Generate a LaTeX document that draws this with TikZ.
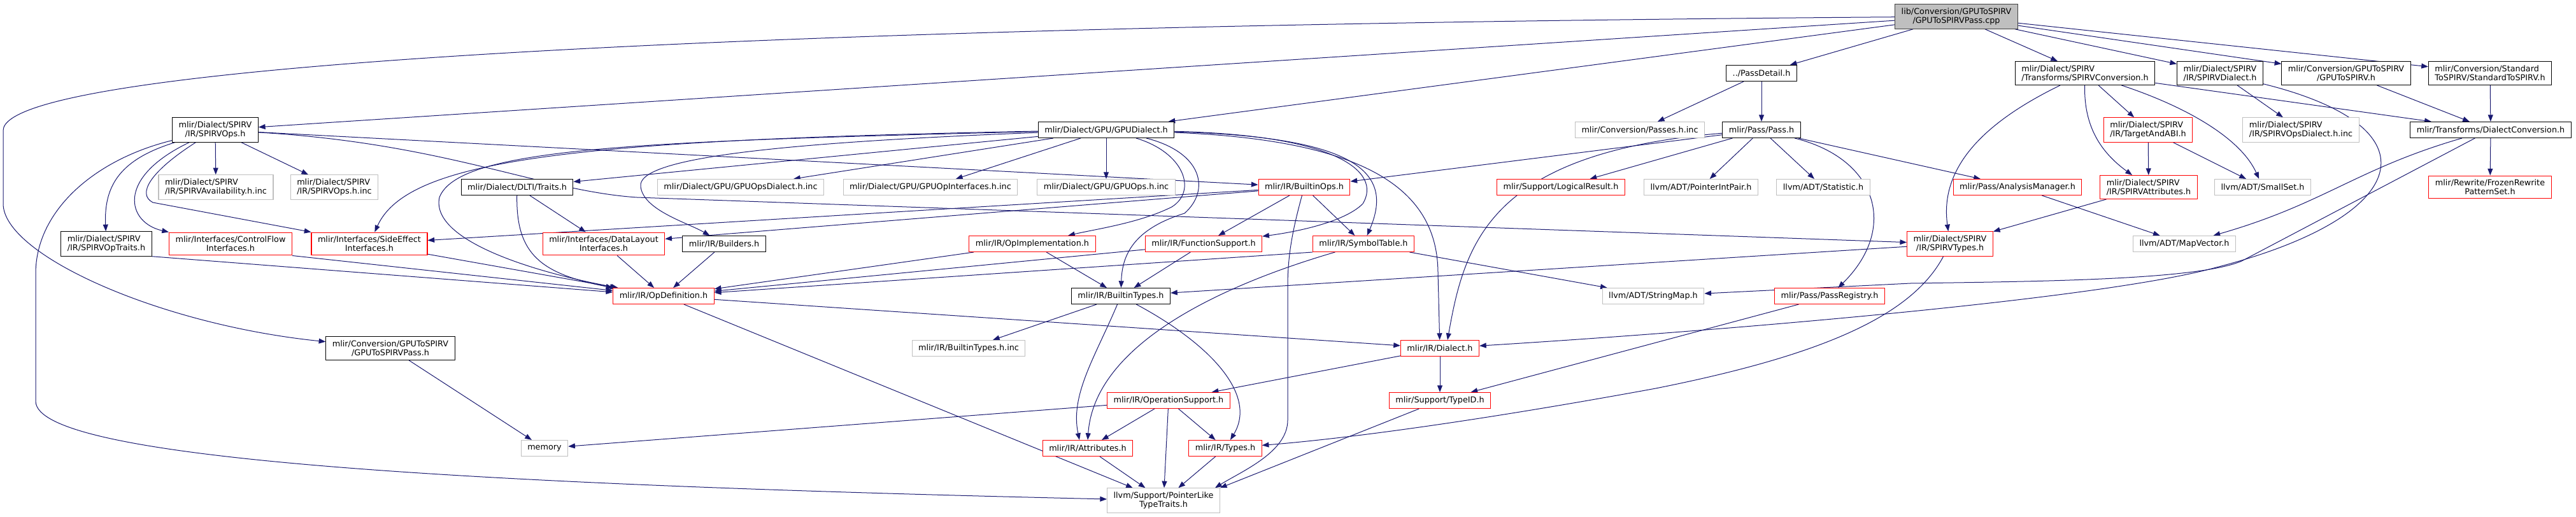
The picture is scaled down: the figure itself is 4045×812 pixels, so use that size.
\documentclass[tikz,border=0pt]{standalone}
\usepackage{fontspec}
\setmainfont{DejaVu Sans}
\usepackage{tikz}
\usetikzlibrary{calc}
\usetikzlibrary{arrows.meta}
\tikzset{>={Triangle[length=8pt,width=6pt]}}
\usetikzlibrary{backgrounds}
\usepackage{xcolor}
\definecolor{edgeblue}{HTML}{191970}
\definecolor{gry}{HTML}{BFBFBF}
\definecolor{rootline}{HTML}{404040}
\tikzset{
  hdr/.style={draw, rectangle, fill=white, font=\fontsize{9.6}{10.5}\selectfont, align=center, inner xsep=7.5pt, inner ysep=4.5pt, minimum height=18.75pt, line width=0.8pt},
  hdrblk/.style={hdr, draw=black},
  hdrred/.style={hdr, draw=red},
  hdrgry/.style={hdr, draw=gry},
  hdrroot/.style={hdr, draw=rootline, fill=gry},
  dep/.style={->, draw=edgeblue, line width=0.75pt}
}

\begin{document}
\begin{tikzpicture}[x=0.75pt, y=-0.75pt]
\useasboundingbox (0,0) rectangle (4045,812);
\node (root) at (3072,26) [hdrroot] {lib/Conversion/GPUToSPIRV\\/GPUToSPIRVPass.cpp};
\node (passdetail) at (2766,115) [hdrblk] {../PassDetail.h};
\node (spirvconv) at (3274,115) [hdrblk, align=left] {mlir/Dialect/SPIRV\\/Transforms/SPIRVConversion.h};
\node (spirvdialect) at (3486,115) [hdrblk, align=left] {mlir/Dialect/SPIRV\\/IR/SPIRVDialect.h};
\node (gputospirv) at (3684,115) [hdrblk] {mlir/Conversion/GPUToSPIRV\\/GPUToSPIRV.h};
\node (stdtospirv) at (3910,115) [hdrblk, align=left] {mlir/Conversion/Standard\\ToSPIRV/StandardToSPIRV.h};
\node (spirvops) at (338,204) [hdrblk] {mlir/Dialect/SPIRV\\/IR/SPIRVOps.h};
\node (gpudialect) at (1737,204) [hdrblk] {mlir/Dialect/GPU/GPUDialect.h};
\node (passesinc) at (2575,204) [hdrgry] {mlir/Conversion/Passes.h.inc};
\node (pass) at (2766,204) [hdrblk] {mlir/Pass/Pass.h};
\node (targetabi) at (3373,204) [hdrred, align=left] {mlir/Dialect/SPIRV\\/IR/TargetAndABI.h};
\node (spirvopsdialectinc) at (3613,204) [hdrgry, align=left] {mlir/Dialect/SPIRV\\/IR/SPIRVOpsDialect.h.inc};
\node (dialectconv) at (3911,204) [hdrblk] {mlir/Transforms/DialectConversion.h};
\node (spirvavailinc) at (339,294) [hdrgry, align=left] {mlir/Dialect/SPIRV\\/IR/SPIRVAvailability.h.inc};
\node (spirvopsinc) at (525,294) [hdrgry, align=left] {mlir/Dialect/SPIRV\\/IR/SPIRVOps.h.inc};
\node (dltitraits) at (812,294) [hdrblk] {mlir/Dialect/DLTI/Traits.h};
\node (gpuopsdialectinc) at (1163,294) [hdrgry] {mlir/Dialect/GPU/GPUOpsDialect.h.inc};
\node (gpuopinterfacesinc) at (1461,294) [hdrgry] {mlir/Dialect/GPU/GPUOpInterfaces.h.inc};
\node (gpuopsinc) at (1737,294) [hdrgry] {mlir/Dialect/GPU/GPUOps.h.inc};
\node (builtinops) at (2048,294) [hdrred] {mlir/IR/BuiltinOps.h};
\node (logicalresult) at (2451,294) [hdrred] {mlir/Support/LogicalResult.h};
\node (pointerintpair) at (2671,294) [hdrgry] {llvm/ADT/PointerIntPair.h};
\node (statistic) at (2863,294) [hdrgry] {llvm/ADT/Statistic.h};
\node (analysismgr) at (3168,294) [hdrred] {mlir/Pass/AnalysisManager.h};
\node (spirvattrs) at (3374,294) [hdrred, align=left] {mlir/Dialect/SPIRV\\/IR/SPIRVAttributes.h};
\node (smallset) at (3553,294) [hdrgry] {llvm/ADT/SmallSet.h};
\node (frozenpatterns) at (3910,294) [hdrred] {mlir/Rewrite/FrozenRewrite\\PatternSet.h};
\node (spirvoptraits) at (167,383) [hdrblk, align=left] {mlir/Dialect/SPIRV\\/IR/SPIRVOpTraits.h};
\node (controlflow) at (362,383) [hdrred] {mlir/Interfaces/ControlFlow\\Interfaces.h};
\node (sideeffect) at (580,383) [hdrred] {mlir/Interfaces/SideEffect\\Interfaces.h};
\node (datalayout) at (948,383) [hdrred] {mlir/Interfaces/DataLayout\\Interfaces.h};
\node (builders) at (1137,383) [hdrblk] {mlir/IR/Builders.h};
\node (opimpl) at (1621,383) [hdrred] {mlir/IR/OpImplementation.h};
\node (funcsupport) at (1890,383) [hdrred] {mlir/IR/FunctionSupport.h};
\node (symboltable) at (2141,383) [hdrred] {mlir/IR/SymbolTable.h};
\node (spirvtypes) at (3062,383) [hdrred] {mlir/Dialect/SPIRV\\/IR/SPIRVTypes.h};
\node (mapvector) at (3430,383) [hdrgry] {llvm/ADT/MapVector.h};
\node (opdef) at (1042,465) [hdrred] {mlir/IR/OpDefinition.h};
\node (builtintypes) at (1760,465) [hdrblk] {mlir/IR/BuiltinTypes.h};
\node (stringmap) at (2596,465) [hdrgry] {llvm/ADT/StringMap.h};
\node (passregistry) at (2873,465) [hdrred] {mlir/Pass/PassRegistry.h};
\node (gpupass) at (613,547) [hdrblk] {mlir/Conversion/GPUToSPIRV\\/GPUToSPIRVPass.h};
\node (builtintypesinc) at (1521,547) [hdrgry] {mlir/IR/BuiltinTypes.h.inc};
\node (dialect) at (2261,547) [hdrred] {mlir/IR/Dialect.h};
\node (opsupport) at (1835,629) [hdrred] {mlir/IR/OperationSupport.h};
\node (typeid) at (2261,629) [hdrred] {mlir/Support/TypeID.h};
\node (memory) at (855,704) [hdrgry] {memory};
\node (attributes) at (1708,704) [hdrred] {mlir/IR/Attributes.h};
\node (types) at (1924,704) [hdrred] {mlir/IR/Types.h};
\node (pointerlike) at (1827,786) [hdrgry] {llvm/Support/PointerLike\\TypeTraits.h};
\begin{scope}[on background layer]
\draw[dep] (root) -- (passdetail);
\draw[dep] (root) -- (spirvconv);
\draw[dep] (root) -- (spirvdialect);
\draw[dep] (root) -- (gputospirv);
\draw[dep] (root) -- (stdtospirv);
\draw[dep] (root) -- (gpudialect);
\draw[dep] (root) -- (spirvops);
\draw[dep] (root) .. controls (1200,40) and (5,100) .. (5,205) -- (5,320) .. controls (5,400) and (250,510) .. (gpupass);
\draw[dep] (spirvops) .. controls (150,250) and (56,330) .. (56,430) -- (56,630) .. controls (56,720) and (700,760) .. (pointerlike);
\draw[dep] (spirvops) .. controls (190,250) and (163,290) .. (spirvoptraits);
\draw[dep] (spirvops) .. controls (180,280) and (200,350) .. (controlflow.north west);
\draw[dep] (spirvops) .. controls (235,270) and (215,305) .. (240,318) -- (sideeffect.north west);
\draw[dep] (spirvops) -- (spirvavailinc);
\draw[dep] (spirvops) -- (spirvopsinc);
\draw[dep] (spirvops) -- (builtinops);
\draw[dep] (spirvops) .. controls (700,225) and (850,300) .. (1000,310) -- (spirvtypes);
\draw[dep] (gpudialect) -- (gpuopsdialectinc);
\draw[dep] (gpudialect) -- (gpuopinterfacesinc);
\draw[dep] (gpudialect) -- (gpuopsinc);
\draw[dep] (gpudialect) -- (dltitraits);
\draw[dep] (gpudialect) .. controls (900,220) and (640,250) .. (sideeffect);
\draw[dep] (gpudialect) .. controls (1000,222) and (720,232) .. (690,310) .. controls (675,380) and (850,430) .. (opdef);
\draw[dep] (gpudialect) .. controls (1200,225) and (1000,250) .. (1006,293) .. controls (1010,330) and (1080,350) .. (builders);
\draw[dep] ($(gpudialect.south)+(47,0)$) .. controls (1860,240) and (1880,300) .. (1840,325) .. controls (1790,350) and (1720,360) .. (opimpl);
\draw[dep] ($(gpudialect.south)+(63,0)$) .. controls (1890,240) and (1900,300) .. (1860,335) .. controls (1780,360) and (1762,400) .. (builtintypes);
\draw[dep] (gpudialect) .. controls (2100,212) and (2170,270) .. (2140,320) .. controls (2110,350) and (2030,365) .. (funcsupport);
\draw[dep] (gpudialect) .. controls (2130,215) and (2190,270) .. (symboltable);
\draw[dep] (gpudialect) .. controls (2150,220) and (2258,300) .. (2258,430) -- (dialect);
\draw[dep] (builtinops) -- (funcsupport);
\draw[dep] (builtinops) -- (symboltable);
\draw[dep] (builtinops) -- (datalayout);
\draw[dep] (builtinops) -- (sideeffect);
\draw[dep] (builtinops) .. controls (2030,360) and (2022,400) .. (2022,450) -- (2022,660) .. controls (2022,710) and (1950,740) .. ($(pointerlike.north east)+(-8,0)$);
\draw[dep] (pass) -- (builtinops);
\draw[dep] (pass) -- (logicalresult);
\draw[dep] (pass) -- (pointerintpair);
\draw[dep] (pass) -- (statistic);
\draw[dep] (pass) .. controls (2340,240) and (2300,380) .. ($(dialect.north)+(12,0)$);
\draw[dep] (pass) .. controls (2950,250) and (2980,360) .. (passregistry);
\draw[dep] (pass) -- (analysismgr);
\draw[dep] (passdetail) -- (passesinc);
\draw[dep] (passdetail) -- (pass);
\draw[dep] (spirvconv) -- (targetabi);
\draw[dep] (spirvconv) .. controls (3272,200) and (3300,240) .. (spirvattrs);
\draw[dep] (spirvconv) .. controls (3440,170) and (3520,220) .. (smallset);
\draw[dep] (spirvconv) .. controls (3120,190) and (3045,260) .. (spirvtypes);
\draw[dep] (spirvconv) -- (dialectconv);
\draw[dep] (spirvdialect) -- (spirvopsdialectinc);
\draw[dep] (spirvdialect) .. controls (3830,200) and (3790,340) .. (3480,420) .. controls (3300,470) and (2700,520) .. (dialect);
\draw[dep] (dialectconv) -- (frozenpatterns);
\draw[dep] (dialectconv) .. controls (3700,265) and (3650,320) .. (mapvector);
\draw[dep] (dialectconv) -- (3520,410) .. controls (3450,440) and (3200,442) .. (3000,445) -- (stringmap);
\draw[dep] (gputospirv) -- (dialectconv);
\draw[dep] (stdtospirv) -- (dialectconv);
\draw[dep] (targetabi) -- (spirvattrs);
\draw[dep] (targetabi) -- (smallset);
\draw[dep] (spirvattrs) -- (spirvtypes);
\draw[dep] (analysismgr) -- (mapvector);
\draw[dep] (spirvtypes) -- (builtintypes);
\draw[dep] (spirvtypes) .. controls (3000,500) and (2850,560) .. (2600,610) .. controls (2300,665) and (2100,690) .. (types);
\draw[dep] (symboltable.south west) -- (opdef);
\draw[dep] (symboltable) .. controls (1980,430) and (1720,520) .. (attributes.north);
\draw[dep] (symboltable) -- (stringmap);
\draw[dep] (opimpl) -- (opdef);
\draw[dep] (opimpl) -- (builtintypes);
\draw[dep] (funcsupport) -- (opdef);
\draw[dep] (funcsupport) -- (builtintypes);
\draw[dep] (builders) -- (opdef);
\draw[dep] (datalayout) -- (opdef);
\draw[dep] (dltitraits) -- (datalayout);
\draw[dep] (dltitraits) .. controls (810,400) and (850,430) .. (opdef.north west);
\draw[dep] (spirvoptraits.south east) -- (opdef);
\draw[dep] (controlflow.south east) -- (opdef);
\draw[dep] (sideeffect) -- (opdef);
\draw[dep] (opdef) -- (dialect);
\draw[dep] (opdef) -- (pointerlike);
\draw[dep] (builtintypes) -- (builtintypesinc);
\draw[dep] (builtintypes) .. controls (1720,560) and (1680,620) .. ($(attributes.north)+(-13,0)$);
\draw[dep] (builtintypes) .. controls (1900,540) and (1975,620) .. (types);
\draw[dep] (dialect) -- (typeid);
\draw[dep] (dialect) -- (opsupport);
\draw[dep] (passregistry) -- (typeid);
\draw[dep] (typeid) -- (pointerlike.north east);
\draw[dep] (opsupport) -- (memory);
\draw[dep] (opsupport) -- (attributes);
\draw[dep] (opsupport) -- (types);
\draw[dep] (opsupport) -- (pointerlike);
\draw[dep] (attributes) -- (pointerlike);
\draw[dep] (types) -- (pointerlike);
\draw[dep] (gpupass) -- (memory);
\end{scope}
\end{tikzpicture}
\end{document}
